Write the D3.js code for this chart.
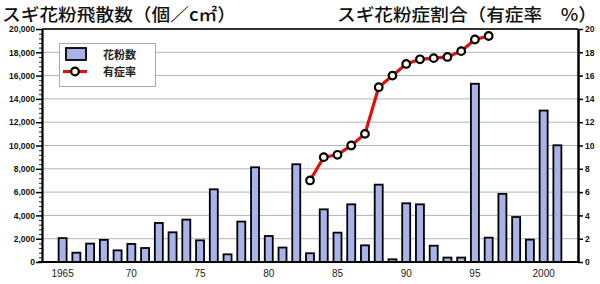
<!DOCTYPE html>
<html><head><meta charset="utf-8">
<script src="https://cdn.jsdelivr.net/npm/d3@7/dist/d3.min.js"></script>
<style>body{margin:0;background:#fff}svg{display:block}</style>
</head><body><div id="chart"></div>
<script>
const years = d3.range(1965, 2002);
const pollen = [2050,800,1580,1900,1000,1550,1200,3350,2550,3640,1860,6240,660,3470,8130,2230,1240,8390,750,4520,2520,4950,1430,6640,230,5040,4950,1400,380,380,15300,2090,5850,3860,1920,13000,10020];
const rateYears = d3.range(1983, 1997);
const rate = [7.0,9.0,9.2,10.0,11.0,15.0,16.0,17.0,17.4,17.5,17.6,18.1,19.1,19.4];
const leftTicks = [0,2000,4000,6000,8000,10000,12000,14000,16000,18000,20000];
const rightTicks = [0,2,4,6,8,10,12,14,16,18,20];
const xLabels = [[1965,"1965"],[1970,"70"],[1975,"75"],[1980,"80"],[1985,"85"],[1990,"90"],[1995,"95"],[2000,"2000"]];
const titleLeft = "スギ花粉飛散数（個／c㎡）";
const titleRight = "スギ花粉症割合（有症率　%）";
const legendLabels = ["花粉数","有症率"];

const W=600,H=284, L=42, R=578, T=29, B=262;
const svg = d3.select("#chart").append("svg").attr("width",W).attr("height",H);
const x = d3.scaleBand().domain(d3.range(1964,2003)).range([L,R]);
const yL = d3.scaleLinear().domain([0,20000]).range([B,T]);
const yR = d3.scaleLinear().domain([0,20]).range([B,T]);
const jp = "'Noto Sans CJK JP', sans-serif";
const num = "'Liberation Sans', Arial, sans-serif";

// gridlines
svg.append("g").selectAll("line").data(leftTicks.slice(1,-1)).join("line")
  .attr("x1",L).attr("x2",R).attr("y1",d=>yL(d)).attr("y2",d=>yL(d))
  .attr("stroke","#b4b4b4").attr("stroke-width",1);

// bars
svg.append("g").selectAll("rect").data(years.map((y,i)=>({y,v:pollen[i]}))).join("rect")
  .attr("x",d=>x(d.y)+x.bandwidth()/2-4).attr("width",8)
  .attr("y",d=>yL(d.v)).attr("height",d=>B-yL(d.v))
  .attr("fill","#a8b3ea").attr("stroke","#000").attr("stroke-width",1.8);

// top border
svg.append("line").attr("x1",L).attr("x2",R).attr("y1",T).attr("y2",T).attr("stroke","#333").attr("stroke-width",2);

// left axis minor ticks
const minor = d3.range(0,20001,400).filter(v=>v%2000!==0);
const gm = svg.append("g").attr("transform",`translate(${L},0)`).call(d3.axisLeft(yL).tickValues(minor).tickSize(3).tickFormat(""));
gm.select(".domain").remove();
gm.selectAll("line").attr("stroke","#222");
// left axis
const gl = svg.append("g").attr("transform",`translate(${L},0)`).call(d3.axisLeft(yL).tickValues(leftTicks).tickSize(6).tickSizeOuter(0).tickFormat(d3.format(",")));
gl.select(".domain").attr("stroke","#000").attr("stroke-width",2.2);
gl.selectAll(".tick line").attr("stroke","#000").attr("stroke-width",1.5);
gl.selectAll("text").attr("font-family",num).attr("font-size",8.5).attr("font-weight","bold").attr("fill","#111").attr("x",-7);

// right axis
const gr = svg.append("g").attr("transform",`translate(${R},0)`).call(d3.axisRight(yR).tickValues(rightTicks).tickSize(5).tickSizeOuter(0));
gr.select(".domain").attr("stroke","#000").attr("stroke-width",2.5);
gr.selectAll(".tick line").attr("stroke","#000").attr("stroke-width",1.5);
gr.selectAll("text").attr("font-family",num).attr("font-size",8.5).attr("font-weight","bold").attr("fill","#111").attr("x",7);

// x axis baseline
svg.append("line").attr("x1",L-4).attr("x2",R).attr("y1",B).attr("y2",B).attr("stroke","#000").attr("stroke-width",2);
svg.append("g").selectAll("text").data(xLabels).join("text")
  .attr("x",d=>x(d[0])+x.bandwidth()/2).attr("y",277).attr("text-anchor","middle")
  .attr("font-family",num).attr("font-size",10).attr("fill","#222").text(d=>d[1]);

// rate line
const pts = rateYears.map((y,i)=>[x(y)+x.bandwidth()/2, yR(rate[i])]);
svg.append("path").attr("d",d3.line()(pts)).attr("fill","none").attr("stroke","#e01010").attr("stroke-width",3.2);
svg.append("g").selectAll("circle").data(pts).join("circle")
  .attr("cx",d=>d[0]).attr("cy",d=>d[1]).attr("r",3.8)
  .attr("fill","#fffbe8").attr("stroke","#000").attr("stroke-width",2.2);

// legend
const lg = svg.append("g");
lg.append("rect").attr("x",59.5).attr("y",43.5).attr("width",96).attr("height",43).attr("fill","#fff").attr("stroke","#aaa").attr("stroke-width",1);
lg.append("rect").attr("x",66).attr("y",48).attr("width",20).attr("height",12).attr("fill","#a8b3ea").attr("stroke","#000").attr("stroke-width",1.8);
lg.append("line").attr("x1",63).attr("x2",87).attr("y1",71.5).attr("y2",71.5).attr("stroke","#e01010").attr("stroke-width",3.2);
lg.append("circle").attr("cx",75).attr("cy",71.5).attr("r",3.8).attr("fill","#fffbe8").attr("stroke","#000").attr("stroke-width",2.2);
lg.selectAll("text").data(legendLabels).join("text")
  .attr("x",103).attr("y",(d,i)=>i?76:58.5).attr("font-family",jp).attr("font-size",11).attr("font-weight","bold").attr("fill","#222").text(d=>d);

// titles
svg.append("text").attr("x",2).attr("y",20.5).attr("font-family",jp).attr("font-size",17.5).attr("font-weight",500)
  .attr("textLength",234).attr("lengthAdjust","spacingAndGlyphs").attr("fill","#111").text(titleLeft);
svg.append("text").attr("x",337).attr("y",20.5).attr("font-family",jp).attr("font-size",17.5).attr("font-weight",500)
  .attr("textLength",260).attr("lengthAdjust","spacingAndGlyphs").attr("fill","#111").text(titleRight);
</script></body></html>
